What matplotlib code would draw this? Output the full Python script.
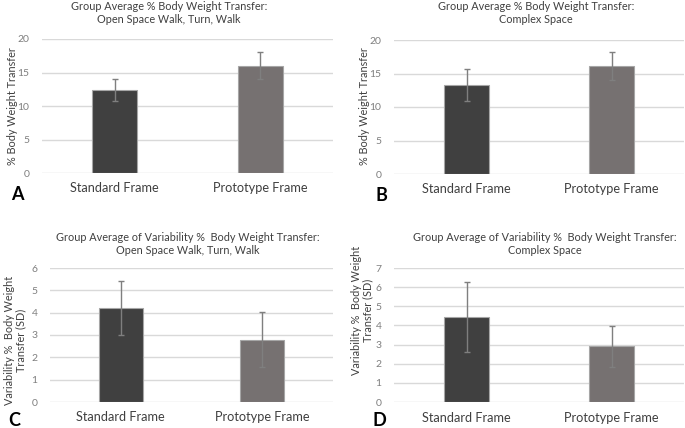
import matplotlib.pyplot as plt

plt.rcParams['font.family'] = ['Lato', 'DejaVu Sans']

# data
categories = ['Standard Frame', 'Prototype Frame']

bwt_open = [12.4, 16.0]
bwt_open_err = [1.65, 2.0]
bwt_complex = [13.3, 16.1]
bwt_complex_err = [2.4, 2.05]

var_open = [4.19, 2.79]
var_open_err = [1.21, 1.24]
var_complex = [4.44, 2.91]
var_complex_err = [1.83, 1.06]

titles = ['Group Average % Body Weight Transfer:\nOpen Space Walk, Turn, Walk',
          'Group Average % Body Weight Transfer:\nComplex Space',
          'Group Average of Variability %  Body Weight Transfer:\nOpen Space Walk, Turn, Walk',
          'Group Average of Variability %  Body Weight Transfer:\nComplex Space']
ylabels = ['% Body Weight Transfer', '% Body Weight Transfer',
           'Variability %  Body Weight\nTransfer (SD)', 'Variability %  Body Weight\nTransfer (SD)']
letters = ['A', 'B', 'C', 'D']
ymaxes = [20, 20, 6, 7]
ysteps = [5, 5, 1, 1]

values = [bwt_open, bwt_complex, var_open, var_complex]
errors = [bwt_open_err, bwt_complex_err, var_open_err, var_complex_err]

W, H = 685, 428
fig = plt.figure(figsize=(W / 100, H / 100), dpi=100)

# layout in pixels: axes box (left, top, right, bottom), title center, ylabel pos, letter pos
boxes = [(42, 39, 333, 173), (394, 40, 684, 174), (50, 268, 333, 402), (394, 268, 684, 402)]
title_pos = [(169, 13), (536, 13), (188, 244), (545, 244)]
ylabel_pos = [(13, 106), (364, 106), (15, 340), (362, 310)]
cat_y = [188, 189, 417, 418]
letter_pos = [(17, 195), (381, 196), (14, 421), (379, 421)]

bar_colors = ['#404040', '#767171']

for i in range(4):
    l, t, r, b = boxes[i]
    ax = fig.add_axes([l / W, 1 - b / H, (r - l) / W, (b - t) / H])
    ax.bar(range(2), values[i], width=0.31, color=bar_colors, edgecolor='#a6a6a6', linewidth=0.8,
           yerr=errors[i], ecolor='#7f7f7f', capsize=2.5, error_kw={'elinewidth': 1.0, 'capthick': 1.0},
           zorder=3)
    ax.set_xlim(-0.5, 1.5)
    ax.set_ylim(0, ymaxes[i])
    ax.set_yticks(range(0, ymaxes[i] + 1, ysteps[i]))
    ax.yaxis.grid(True, color='#d9d9d9', linewidth=1, zorder=0)
    ax.set_axisbelow(True)
    for s in ax.spines.values():
        s.set_visible(False)
    ax.tick_params(axis='y', length=0, labelsize=7.5, labelcolor='#7f7f7f', pad=9)
    ax.set_xticks([])

    fig.text(title_pos[i][0] / W, 1 - title_pos[i][1] / H, titles[i], ha='center', va='center',
             fontsize=7.8, color='#404040', linespacing=1.3)
    fig.text(ylabel_pos[i][0] / W, 1 - ylabel_pos[i][1] / H, ylabels[i], ha='center', va='center',
             rotation=90, fontsize=7.8, color='#404040', linespacing=1.1)
    for j in range(2):
        cx = l + (r - l) * (0.25 + 0.5 * j)
        fig.text(cx / W, 1 - cat_y[i] / H, categories[j], ha='center', va='center',
                 fontsize=9.2, color='#404040')
    fig.text(letter_pos[i][0] / W, 1 - letter_pos[i][1] / H, letters[i], ha='center', va='center',
             fontsize=13, fontweight='bold', color='black')

plt.savefig('out.png', dpi=100)
